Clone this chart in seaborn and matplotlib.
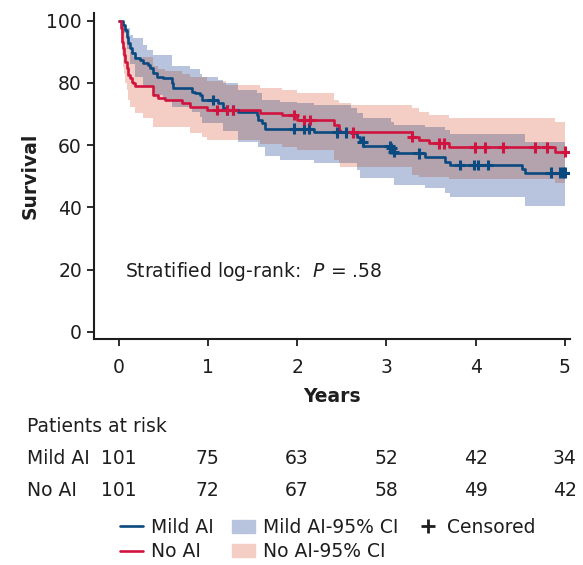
import numpy as np
import matplotlib
matplotlib.use("Agg")
import matplotlib.pyplot as plt
import matplotlib.transforms as mtransforms
from matplotlib.lines import Line2D
from matplotlib.patches import Patch
import pandas as pd
import seaborn as sns

# --- data ---
years = [0, 1, 2, 3, 4, 5]
risk_mild = [101, 75, 63, 52, 42, 34]
risk_no = [101, 72, 67, 58, 49, 42]
t_end = 5.006

# Mild AI Kaplan-Meier steps (time in years, survival %)
mild_t = [0, 0.054, 0.073, 0.092, 0.110, 0.129, 0.148, 0.185, 0.241, 0.278, 0.334, 0.353,
          0.390, 0.428, 0.499, 0.596, 0.614, 0.821, 0.858, 0.914, 0.933, 1.119, 1.175,
          1.205, 1.343, 1.549, 1.567, 1.605, 1.642, 2.184, 2.603, 2.670, 2.707, 2.724,
          2.740, 3.055, 3.071, 3.090, 3.436, 3.660, 3.716, 4.520, 4.557]
mild_s = [100, 98.6, 97.0, 94.9, 92.7, 91.1, 89.5, 87.9, 87.4, 86.3, 85.8, 84.7,
          83.1, 82.0, 81.5, 79.9, 78.3, 77.2, 76.7, 76.1, 74.5, 73.4, 71.8,
          71.3, 70.7, 69.7, 68.1, 67.0, 65.3, 64.1, 63.8, 62.7, 61.6, 61.1,
          59.7, 59.0, 57.9, 57.4, 56.3, 54.7, 53.6, 52.3, 51.1]
mild_cens_t = [1.056, 1.215, 1.287, 1.967, 2.072, 2.128, 2.446, 2.550, 2.733, 3.036, 3.055,
               3.081, 3.361, 3.821, 3.978, 4.022, 4.137, 4.843, 4.950, 4.983, 5.006]
mild_cens_s = [74.5, 71.3, 71.3, 65.3, 65.3, 65.3, 64.1, 64.1, 61.1, 59.7, 59.0,
               57.9, 57.4, 53.6, 53.6, 53.6, 53.6, 51.1, 51.1, 51.1, 51.1]

# No AI Kaplan-Meier steps
no_t = [0, 0.028, 0.036, 0.043, 0.054, 0.065, 0.073, 0.092, 0.110, 0.129, 0.148, 0.166,
        0.185, 0.390, 0.446, 0.521, 0.709, 0.802, 0.989, 1.586, 1.830, 1.998, 2.408,
        2.464, 2.483, 3.287, 3.361, 3.473, 3.697, 4.894]
no_s = [100, 97.6, 95.4, 93.2, 91.1, 89.0, 86.8, 84.7, 82.5, 81.5, 80.4, 79.9,
        79.1, 76.1, 75.0, 74.5, 73.4, 72.3, 71.3, 70.4, 69.7, 68.1, 66.5,
        64.9, 64.1, 62.7, 61.6, 60.6, 59.3, 57.9]
no_cens_t = [1.101, 1.213, 1.280, 1.960, 2.080, 2.147, 2.629, 3.287, 3.585, 3.641,
             3.989, 4.101, 4.307, 4.661, 4.804, 5.006]
no_cens_s = [71.3, 71.3, 71.3, 69.7, 68.1, 68.1, 64.1, 62.7, 60.6, 60.6,
             59.3, 59.3, 59.3, 59.3, 59.3, 57.9]

# 95% CI bands
mild_hi_t = [0, 0.05, 0.073, 0.129, 0.166, 0.278, 0.316, 0.390, 0.596, 0.802, 0.914, 0.933,
             1.119, 1.175, 1.343, 1.549, 1.605, 1.811, 1.998, 2.184, 2.603, 2.670, 2.738,
             3.055, 3.090, 3.436, 3.660, 3.716, 4.557]
mild_hi = [100, 99.0, 97.6, 95.4, 94.3, 92.2, 90.6, 89.0, 85.5, 84.5, 83.0, 82.0,
           80.9, 79.9, 77.7, 76.7, 74.5, 74.0, 73.4, 72.9, 71.8, 70.2, 68.6,
           67.5, 66.5, 65.9, 64.9, 63.5, 61.1]
mild_lo_t = [0, 0.054, 0.092, 0.129, 0.185, 0.278, 0.390, 0.499, 0.596, 0.821, 0.914, 0.933,
             1.175, 1.343, 1.567, 1.642, 1.811, 2.184, 2.670, 2.707, 3.090, 3.436, 3.660,
             3.716, 4.557]
mild_lo = [100, 96, 91, 86, 82, 79, 76, 74.5, 72.3, 70.7, 69.1, 67.0,
           64.5, 61.1, 59.5, 56.5, 55.2, 54.1, 52.0, 49.3, 47.2, 46.1, 44.5,
           43.4, 40.4]
no_hi_t = [0, 0.036, 0.065, 0.092, 0.129, 0.166, 0.390, 0.446, 0.521, 0.709, 0.802, 0.989,
           1.200, 1.586, 1.830, 1.998, 2.408, 2.464, 2.603, 3.287, 3.361, 3.473, 3.697, 4.894]
no_hi = [100, 99.5, 97, 93, 90, 88.5, 85.5, 84.5, 84, 83, 82, 80.5,
         79.3, 78.3, 77.7, 76.7, 74.5, 73.4, 72.9, 71.8, 70.7, 69.7, 68.6, 67.4]
no_lo_t = [0, 0.028, 0.036, 0.054, 0.065, 0.073, 0.092, 0.110, 0.129, 0.185, 0.278, 0.390,
           0.802, 0.933, 0.989, 1.586, 1.830, 1.998, 2.408, 2.464, 2.483, 3.287, 3.361,
           3.697, 4.894]
no_lo = [100, 93, 89, 85, 83, 80, 77.7, 74.5, 72.3, 70.2, 68.6, 65.9,
         63.8, 62.7, 61.6, 60.5, 59.5, 58.4, 55.2, 54.1, 53.0, 50.4, 49.8,
         49.1, 47.7]

blue = "#0b4a80"
red = "#d0143f"
blue_ci = "#b8c4de"
red_ci = "#f4cdc4"
both_ci = "#b4a2ac"
ink = "#1e1e1e"
fs = 13.5


def step_at(tn, vals, grid):
    idx = np.searchsorted(tn, grid, side="right") - 1
    return np.asarray(vals, dtype=float)[idx]


def km_frame(tn, sv, group):
    return pd.DataFrame({"Years": list(tn) + [t_end], "Survival": list(sv) + [sv[-1]],
                         "group": group})


sns.set_style("ticks")
plt.rcParams["font.family"] = ["DejaVu Sans"]
plt.rcParams["text.color"] = ink
plt.rcParams["axes.labelcolor"] = ink

fig = plt.figure(figsize=(5.83, 5.65), dpi=100)
ax = fig.add_axes([0.162, 0.400, 0.816, 0.577])

grid = np.unique(np.concatenate([mild_hi_t, mild_lo_t, no_hi_t, no_lo_t, [t_end]]))
mh = step_at(mild_hi_t, mild_hi, grid)
ml = step_at(mild_lo_t, mild_lo, grid)
nh = step_at(no_hi_t, no_hi, grid)
nl = step_at(no_lo_t, no_lo, grid)
ax.fill_between(grid, ml, mh, step="post", color=blue_ci, lw=0)
ax.fill_between(grid, nl, nh, step="post", color=red_ci, lw=0)
ov_lo = np.maximum(ml, nl)
ov_hi = np.minimum(mh, nh)
ax.fill_between(grid, ov_lo, np.maximum(ov_hi, ov_lo), step="post", color=both_ci, lw=0)

km = pd.concat([km_frame(mild_t, mild_s, "Mild AI"), km_frame(no_t, no_s, "No AI")])
sns.lineplot(data=km, x="Years", y="Survival", hue="group", palette=[blue, red],
             estimator=None, drawstyle="steps-post", lw=1.9, legend=False, ax=ax)

cens = pd.concat([pd.DataFrame({"Years": mild_cens_t, "Survival": mild_cens_s, "group": "Mild AI"}),
                  pd.DataFrame({"Years": no_cens_t, "Survival": no_cens_s, "group": "No AI"})])
sns.scatterplot(data=cens, x="Years", y="Survival", hue="group", palette=[blue, red],
                marker="+", s=60, linewidth=2.2, legend=False, ax=ax, zorder=4)

ax.set_xlim(-0.271, 5.06)
ax.set_ylim(-2.35, 102.5)
ax.set_xticks(years)
ax.set_yticks([0, 20, 40, 60, 80, 100])
ax.tick_params(labelsize=fs, length=5, width=1.3, colors=ink)
ax.tick_params(axis="x", pad=9)
ax.tick_params(axis="y", pad=4)
for side in ["left", "bottom"]:
    ax.spines[side].set_linewidth(1.5)
    ax.spines[side].set_color(ink)
sns.despine(ax=ax)
ax.set_xlabel("Years", fontsize=fs, fontweight="bold", labelpad=7)
ax.set_ylabel("Survival", fontsize=fs, fontweight="bold", labelpad=5)

ax.text(0.073, 19.5, "Stratified log-rank:  $\\it{P}$ = .58", fontsize=fs, va="center", ha="left")

# patients at risk table
tr = mtransforms.blended_transform_factory(ax.transData, fig.transFigure)
fig.text(0.046, 1 - 427 / 565, "Patients at risk", fontsize=fs, va="center")
for label, counts, ypix in [("Mild AI", risk_mild, 459), ("No AI", risk_no, 491)]:
    fig.text(0.046, 1 - ypix / 565, label, fontsize=fs, va="center")
    for yr, n in zip(years, counts):
        ax.text(yr, 1 - ypix / 565, str(n), transform=tr, fontsize=fs, va="center", ha="center")

handles = [Line2D([], [], color=blue, lw=1.9), Line2D([], [], color=red, lw=1.9),
           Patch(color=blue_ci), Patch(color=red_ci),
           Line2D([], [], color=ink, marker="+", ls="none", ms=10, mew=2)]
labels = ["Mild AI", "No AI", "Mild AI-95% CI", "No AI-95% CI", "Censored"]
fig.legend(handles, labels, ncol=3, loc="upper left", bbox_to_anchor=(0.206, 1 - 518 / 565),
           frameon=False, fontsize=fs, handlelength=1.2, handletextpad=0.43,
           columnspacing=1.0, labelspacing=0.28, borderpad=0, borderaxespad=0)

fig.savefig("out.png", dpi=100)
